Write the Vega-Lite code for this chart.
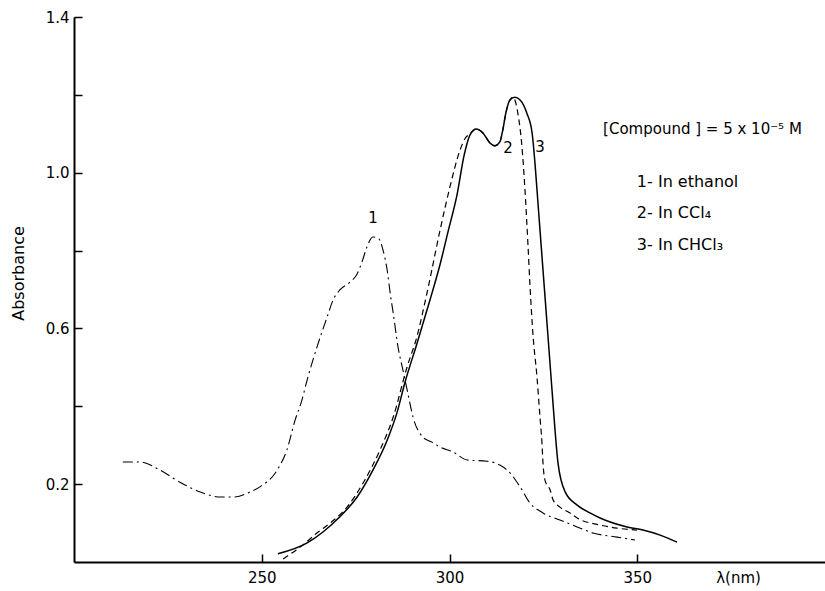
{
  "$schema": "https://vega.github.io/schema/vega-lite/v6.json",
  "width": 751,
  "height": 545,
  "autosize": {"type": "none"},
  "padding": {"left": 74, "top": 17, "right": 0, "bottom": 29},
  "background": "white",
  "config": {"view": {"stroke": null}, "font": "DejaVu Sans"},
  "data": {"values": [
    {"series": "ethanol", "wavelength": 213.0, "absorbance": 0.257},
    {"series": "ethanol", "wavelength": 217.6, "absorbance": 0.257},
    {"series": "ethanol", "wavelength": 222.9, "absorbance": 0.236},
    {"series": "ethanol", "wavelength": 228.2, "absorbance": 0.205},
    {"series": "ethanol", "wavelength": 233.6, "absorbance": 0.180},
    {"series": "ethanol", "wavelength": 238.9, "absorbance": 0.167},
    {"series": "ethanol", "wavelength": 242.9, "absorbance": 0.167},
    {"series": "ethanol", "wavelength": 246.9, "absorbance": 0.180},
    {"series": "ethanol", "wavelength": 249.5, "absorbance": 0.193},
    {"series": "ethanol", "wavelength": 254.1, "absorbance": 0.236},
    {"series": "ethanol", "wavelength": 256.7, "absorbance": 0.288},
    {"series": "ethanol", "wavelength": 258.9, "absorbance": 0.365},
    {"series": "ethanol", "wavelength": 260.7, "absorbance": 0.416},
    {"series": "ethanol", "wavelength": 262.1, "absorbance": 0.468},
    {"series": "ethanol", "wavelength": 264.7, "absorbance": 0.552},
    {"series": "ethanol", "wavelength": 267.4, "absorbance": 0.629},
    {"series": "ethanol", "wavelength": 269.0, "absorbance": 0.673},
    {"series": "ethanol", "wavelength": 270.8, "absorbance": 0.699},
    {"series": "ethanol", "wavelength": 273.5, "absorbance": 0.719},
    {"series": "ethanol", "wavelength": 275.4, "absorbance": 0.740},
    {"series": "ethanol", "wavelength": 276.7, "absorbance": 0.771},
    {"series": "ethanol", "wavelength": 278.0, "absorbance": 0.809},
    {"series": "ethanol", "wavelength": 279.6, "absorbance": 0.835},
    {"series": "ethanol", "wavelength": 281.2, "absorbance": 0.830},
    {"series": "ethanol", "wavelength": 282.3, "absorbance": 0.801},
    {"series": "ethanol", "wavelength": 283.4, "absorbance": 0.750},
    {"series": "ethanol", "wavelength": 284.2, "absorbance": 0.691},
    {"series": "ethanol", "wavelength": 285.0, "absorbance": 0.640},
    {"series": "ethanol", "wavelength": 286.3, "absorbance": 0.552},
    {"series": "ethanol", "wavelength": 287.6, "absorbance": 0.493},
    {"series": "ethanol", "wavelength": 288.9, "absorbance": 0.434},
    {"series": "ethanol", "wavelength": 290.3, "absorbance": 0.372},
    {"series": "ethanol", "wavelength": 292.9, "absorbance": 0.321},
    {"series": "ethanol", "wavelength": 295.3, "absorbance": 0.308},
    {"series": "ethanol", "wavelength": 297.5, "absorbance": 0.295},
    {"series": "ethanol", "wavelength": 300.9, "absorbance": 0.283},
    {"series": "ethanol", "wavelength": 304.7, "absorbance": 0.262},
    {"series": "ethanol", "wavelength": 310.0, "absorbance": 0.259},
    {"series": "ethanol", "wavelength": 313.4, "absorbance": 0.249},
    {"series": "ethanol", "wavelength": 316.1, "absorbance": 0.229},
    {"series": "ethanol", "wavelength": 318.8, "absorbance": 0.193},
    {"series": "ethanol", "wavelength": 321.4, "absorbance": 0.152},
    {"series": "ethanol", "wavelength": 324.9, "absorbance": 0.126},
    {"series": "ethanol", "wavelength": 329.4, "absorbance": 0.108},
    {"series": "ethanol", "wavelength": 334.0, "absorbance": 0.090},
    {"series": "ethanol", "wavelength": 338.2, "absorbance": 0.0745},
    {"series": "ethanol", "wavelength": 344.6, "absorbance": 0.064},
    {"series": "ethanol", "wavelength": 349.4, "absorbance": 0.0565},

    {"series": "CCl4", "wavelength": 255.7, "absorbance": 0.008},
    {"series": "CCl4", "wavelength": 261.0, "absorbance": 0.044},
    {"series": "CCl4", "wavelength": 264.7, "absorbance": 0.0745},
    {"series": "CCl4", "wavelength": 268.2, "absorbance": 0.100},
    {"series": "CCl4", "wavelength": 272.7, "absorbance": 0.141},
    {"series": "CCl4", "wavelength": 277.0, "absorbance": 0.203},
    {"series": "CCl4", "wavelength": 281.5, "absorbance": 0.288},
    {"series": "CCl4", "wavelength": 285.0, "absorbance": 0.372},
    {"series": "CCl4", "wavelength": 288.7, "absorbance": 0.501},
    {"series": "CCl4", "wavelength": 291.3, "absorbance": 0.578},
    {"series": "CCl4", "wavelength": 294.0, "absorbance": 0.691},
    {"series": "CCl4", "wavelength": 297.5, "absorbance": 0.853},
    {"series": "CCl4", "wavelength": 300.1, "absorbance": 0.963},
    {"series": "CCl4", "wavelength": 302.8, "absorbance": 1.058},
    {"series": "CCl4", "wavelength": 304.3, "absorbance": 1.090},
    {"series": "CCl4", "wavelength": 305.5, "absorbance": 1.100},
    {"series": "CCl4", "wavelength": 307.1, "absorbance": 1.112},
    {"series": "CCl4", "wavelength": 308.9, "absorbance": 1.102},
    {"series": "CCl4", "wavelength": 310.8, "absorbance": 1.076},
    {"series": "CCl4", "wavelength": 312.1, "absorbance": 1.069},
    {"series": "CCl4", "wavelength": 313.4, "absorbance": 1.079},
    {"series": "CCl4", "wavelength": 314.2, "absorbance": 1.110},
    {"series": "CCl4", "wavelength": 315.0, "absorbance": 1.153},
    {"series": "CCl4", "wavelength": 316.1, "absorbance": 1.187},
    {"series": "CCl4", "wavelength": 316.9, "absorbance": 1.194},
    {"series": "CCl4", "wavelength": 318.2, "absorbance": 1.153},
    {"series": "CCl4", "wavelength": 319.3, "absorbance": 1.066},
    {"series": "CCl4", "wavelength": 320.1, "absorbance": 0.956},
    {"series": "CCl4", "wavelength": 320.9, "absorbance": 0.814},
    {"series": "CCl4", "wavelength": 321.4, "absorbance": 0.717},
    {"series": "CCl4", "wavelength": 322.2, "absorbance": 0.588},
    {"series": "CCl4", "wavelength": 323.3, "absorbance": 0.475},
    {"series": "CCl4", "wavelength": 324.1, "absorbance": 0.372},
    {"series": "CCl4", "wavelength": 324.6, "absorbance": 0.310},
    {"series": "CCl4", "wavelength": 324.9, "absorbance": 0.254},
    {"series": "CCl4", "wavelength": 325.4, "absorbance": 0.211},
    {"series": "CCl4", "wavelength": 326.8, "absorbance": 0.185},
    {"series": "CCl4", "wavelength": 327.6, "absorbance": 0.159},
    {"series": "CCl4", "wavelength": 329.4, "absorbance": 0.141},
    {"series": "CCl4", "wavelength": 332.1, "absorbance": 0.126},
    {"series": "CCl4", "wavelength": 334.0, "absorbance": 0.113},
    {"series": "CCl4", "wavelength": 340.1, "absorbance": 0.095},
    {"series": "CCl4", "wavelength": 344.6, "absorbance": 0.087},
    {"series": "CCl4", "wavelength": 349.9, "absorbance": 0.082},

    {"series": "CHCl3", "wavelength": 254.3, "absorbance": 0.021},
    {"series": "CHCl3", "wavelength": 262.1, "absorbance": 0.049},
    {"series": "CHCl3", "wavelength": 266.3, "absorbance": 0.077},
    {"series": "CHCl3", "wavelength": 270.8, "absorbance": 0.116},
    {"series": "CHCl3", "wavelength": 275.4, "absorbance": 0.167},
    {"series": "CHCl3", "wavelength": 279.6, "absorbance": 0.236},
    {"series": "CHCl3", "wavelength": 283.4, "absorbance": 0.313},
    {"series": "CHCl3", "wavelength": 286.0, "absorbance": 0.383},
    {"series": "CHCl3", "wavelength": 288.1, "absorbance": 0.460},
    {"series": "CHCl3", "wavelength": 291.3, "absorbance": 0.560},
    {"series": "CHCl3", "wavelength": 294.8, "absorbance": 0.673},
    {"series": "CHCl3", "wavelength": 297.5, "absorbance": 0.765},
    {"series": "CHCl3", "wavelength": 299.6, "absorbance": 0.848},
    {"series": "CHCl3", "wavelength": 302.0, "absorbance": 0.943},
    {"series": "CHCl3", "wavelength": 303.9, "absorbance": 1.045},
    {"series": "CHCl3", "wavelength": 305.5, "absorbance": 1.098},
    {"series": "CHCl3", "wavelength": 307.1, "absorbance": 1.112},
    {"series": "CHCl3", "wavelength": 308.9, "absorbance": 1.102},
    {"series": "CHCl3", "wavelength": 310.8, "absorbance": 1.076},
    {"series": "CHCl3", "wavelength": 312.1, "absorbance": 1.069},
    {"series": "CHCl3", "wavelength": 313.4, "absorbance": 1.079},
    {"series": "CHCl3", "wavelength": 314.2, "absorbance": 1.110},
    {"series": "CHCl3", "wavelength": 315.0, "absorbance": 1.153},
    {"series": "CHCl3", "wavelength": 316.1, "absorbance": 1.187},
    {"series": "CHCl3", "wavelength": 317.4, "absorbance": 1.194},
    {"series": "CHCl3", "wavelength": 318.8, "absorbance": 1.187},
    {"series": "CHCl3", "wavelength": 320.6, "absorbance": 1.153},
    {"series": "CHCl3", "wavelength": 322.0, "absorbance": 1.102},
    {"series": "CHCl3", "wavelength": 322.8, "absorbance": 1.020},
    {"series": "CHCl3", "wavelength": 323.6, "absorbance": 0.917},
    {"series": "CHCl3", "wavelength": 324.9, "absorbance": 0.750},
    {"series": "CHCl3", "wavelength": 326.2, "absorbance": 0.583},
    {"series": "CHCl3", "wavelength": 327.3, "absorbance": 0.442},
    {"series": "CHCl3", "wavelength": 328.1, "absorbance": 0.339},
    {"series": "CHCl3", "wavelength": 328.9, "absorbance": 0.254},
    {"series": "CHCl3", "wavelength": 330.8, "absorbance": 0.180},
    {"series": "CHCl3", "wavelength": 334.0, "absorbance": 0.146},
    {"series": "CHCl3", "wavelength": 337.4, "absorbance": 0.126},
    {"series": "CHCl3", "wavelength": 340.1, "absorbance": 0.113},
    {"series": "CHCl3", "wavelength": 347.3, "absorbance": 0.090},
    {"series": "CHCl3", "wavelength": 351.5, "absorbance": 0.082},
    {"series": "CHCl3", "wavelength": 356.1, "absorbance": 0.069},
    {"series": "CHCl3", "wavelength": 360.6, "absorbance": 0.051}
  ]},
  "encoding": {
    "x": {
      "field": "wavelength", "type": "quantitative",
      "scale": {"domain": [200, 400], "nice": false, "zero": false},
      "axis": {
        "values": [250, 300, 350], "title": "λ(nm)",
        "titleX": 664, "titleY": 8, "titleAlign": "center", "titleBaseline": "top", "titleAnchor": null,
        "titleFontSize": 15, "titleFontWeight": "normal", "titleColor": "black", "titleFont": "DejaVu Sans",
        "labelFontSize": 15, "labelColor": "black", "labelFont": "DejaVu Sans", "labelFlush": false, "labelBaseline": "top",
        "domainColor": "black", "domainWidth": 2, "tickColor": "black", "tickWidth": 1.5, "tickSize": -8,
        "labelPadding": 16, "grid": false
      }
    },
    "y": {
      "field": "absorbance", "type": "quantitative",
      "scale": {"domain": [0, 1.4], "nice": false, "zero": true},
      "axis": {
        "values": [0.2, 0.4, 0.6, 0.8, 1.0, 1.2, 1.4],
        "labelExpr": "round(datum.value*10) % 4 == 2 ? format(datum.value, '.1f') : ''",
        "title": "Absorbance", "titleX": -56, "titleY": 256, "titleAngle": 270, "titleAlign": "center", "titleBaseline": "middle", "titleAnchor": null,
        "titleFontSize": 16, "titleFontWeight": "normal", "titleColor": "black", "titleFont": "DejaVu Sans",
        "labelFontSize": 15, "labelColor": "black", "labelFont": "DejaVu Sans", "labelFlush": false, "labelBaseline": "middle",
        "domainColor": "black", "domainWidth": 2, "tickColor": "black", "tickWidth": 1.5, "tickSize": -8,
        "labelPadding": 13, "grid": false
      }
    }
  },
  "layer": [
    {
      "transform": [{"filter": "datum.series === 'ethanol'"}],
      "mark": {"type": "line", "interpolate": "monotone", "color": "black", "strokeWidth": 1.1, "strokeDash": [10, 4, 2, 4]}
    },
    {
      "transform": [{"filter": "datum.series === 'CCl4'"}],
      "mark": {"type": "line", "interpolate": "monotone", "color": "black", "strokeWidth": 1.2, "strokeDash": [6, 4]}
    },
    {
      "transform": [{"filter": "datum.series === 'CHCl3'"}],
      "mark": {"type": "line", "interpolate": "monotone", "color": "black", "strokeWidth": 1.5}
    },
    {
      "data": {"values": [
        {"wavelength": 279.6, "absorbance": 0.884, "label": "1"},
        {"wavelength": 315.6, "absorbance": 1.063, "label": "2"},
        {"wavelength": 324.1, "absorbance": 1.066, "label": "3"}
      ]},
      "mark": {"type": "text", "align": "center", "baseline": "middle", "fontSize": 15, "color": "black", "font": "DejaVu Sans"},
      "encoding": {"text": {"field": "label"}}
    },
    {
      "data": {"values": [
        {"wavelength": 340.9, "absorbance": 1.112, "label": "[Compound ] = 5 x 10⁻⁵ M"}
      ]},
      "mark": {"type": "text", "align": "left", "baseline": "middle", "fontSize": 15, "color": "black", "font": "DejaVu Sans"},
      "encoding": {"text": {"field": "label"}}
    },
    {
      "data": {"values": [
        {"wavelength": 349.9, "absorbance": 0.977, "label": "1- In   ethanol"},
        {"wavelength": 349.9, "absorbance": 0.896, "label": "2- In   CCl₄"},
        {"wavelength": 349.9, "absorbance": 0.814, "label": "3- In   CHCl₃"}
      ]},
      "mark": {"type": "text", "align": "left", "baseline": "middle", "fontSize": 16, "color": "black", "font": "DejaVu Sans"},
      "encoding": {"text": {"field": "label"}}
    }
  ]
}
